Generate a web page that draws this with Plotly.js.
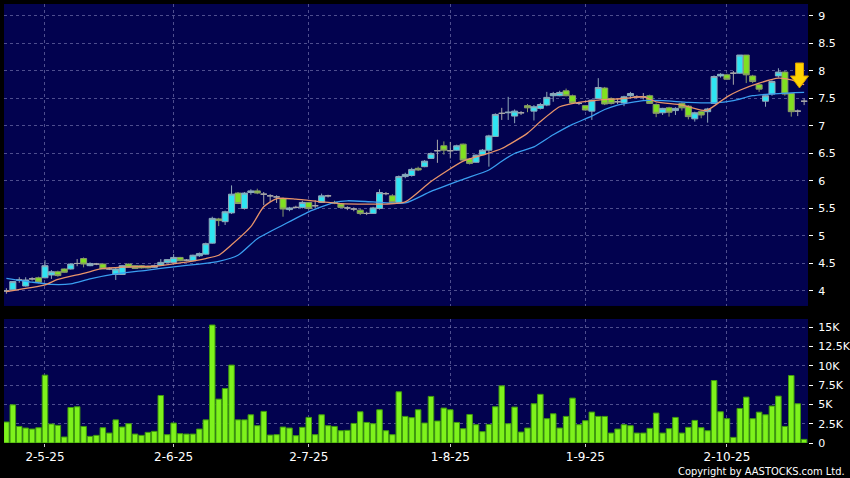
<!DOCTYPE html>
<html><head><meta charset="utf-8">
<script src="https://cdn.plot.ly/plotly-3.0.1.min.js"></script>
<style>html,body{margin:0;padding:0;background:#000;} #chart{width:850px;height:478px;}</style>
</head><body><div id="chart"></div>
<script>
// ---- data (index = trading day, 0 = 23 Apr 2025) ----
const openP = [4.00,4.02,4.20,4.09,4.22,4.24,4.24,4.29,4.35,4.40,
 4.40,4.50,4.59,4.46,4.49,4.49,4.40,4.30,4.30,4.49,
 4.46,4.46,4.45,4.43,4.47,4.52,4.52,4.61,4.56,4.55,
 4.64,4.67,4.87,5.31,5.26,5.42,5.78,5.50,5.79,5.82,
 5.76,5.73,5.71,5.68,5.48,5.52,5.52,5.61,5.55,5.61,
 5.73,5.61,5.58,5.51,5.49,5.47,5.41,5.41,5.50,5.77,
 5.73,5.61,6.08,6.10,6.23,6.26,6.41,6.55,6.64,6.55,
 6.56,6.67,6.40,6.34,6.48,6.56,6.81,7.23,7.24,7.18,
 7.24,7.37,7.27,7.32,7.38,7.55,7.55,7.64,7.55,7.41,
 7.37,7.27,7.50,7.69,7.50,7.44,7.42,7.55,7.53,7.53,
 7.55,7.39,7.24,7.33,7.28,7.41,7.36,7.13,7.26,7.26,
 7.41,7.91,7.93,7.96,7.96,8.29,7.91,7.75,7.45,7.58,
 7.91,7.98,7.59,7.27,7.45];
const highP = [4.05,4.18,4.25,4.25,4.25,4.26,4.56,4.38,4.37,4.41,
 4.50,4.58,4.61,4.52,4.51,4.50,4.43,4.42,4.47,4.50,
 4.47,4.47,4.46,4.48,4.58,4.58,4.67,4.62,4.58,4.66,
 4.70,4.88,5.35,5.33,5.46,5.92,5.80,5.80,5.85,5.86,
 5.80,5.76,5.74,5.70,5.53,5.55,5.64,5.62,5.65,5.77,
 5.75,5.64,5.60,5.54,5.52,5.49,5.44,5.53,5.85,5.80,
 5.76,6.10,6.15,6.24,6.26,6.38,6.52,6.75,6.72,6.71,
 6.66,6.68,6.42,6.48,6.58,6.84,7.23,7.33,7.53,7.30,
 7.27,7.40,7.38,7.42,7.62,7.62,7.64,7.68,7.57,7.44,
 7.38,7.48,7.87,7.71,7.52,7.50,7.55,7.62,7.56,7.60,
 7.57,7.41,7.33,7.35,7.34,7.43,7.38,7.26,7.28,7.33,
 7.92,7.96,7.95,8.00,8.29,8.29,7.93,7.77,7.56,7.83,
 8.05,8.00,7.60,7.30,7.50];
const lowP = [3.95,4.00,4.15,4.08,4.19,4.14,4.23,4.22,4.26,4.33,
 4.39,4.45,4.43,4.45,4.47,4.40,4.38,4.20,4.29,4.42,
 4.40,4.41,4.41,4.42,4.46,4.51,4.51,4.54,4.54,4.54,
 4.62,4.66,4.86,5.18,5.20,5.40,5.58,5.48,5.75,5.76,
 5.56,5.62,5.60,5.35,5.45,5.50,5.50,5.48,5.50,5.60,
 5.70,5.58,5.51,5.47,5.45,5.38,5.38,5.40,5.48,5.74,
 5.60,5.60,6.05,6.08,6.18,6.25,6.40,6.33,6.48,6.41,
 6.55,6.37,6.30,6.33,6.47,6.26,6.80,7.11,7.11,7.05,
 7.20,7.25,7.10,7.30,7.36,7.44,7.54,7.54,7.40,7.38,
 7.28,7.11,7.49,7.38,7.39,7.40,7.36,7.50,7.50,7.48,
 7.40,7.16,7.20,7.17,7.20,7.28,7.12,7.08,7.14,7.06,
 7.40,7.88,7.84,7.75,7.95,7.78,7.78,7.62,7.35,7.55,
 7.88,7.55,7.17,7.18,7.38];
const closeP = [4.00,4.17,4.20,4.20,4.22,4.16,4.46,4.35,4.28,4.34,
 4.49,4.50,4.49,4.50,4.49,4.40,4.40,4.40,4.46,4.43,
 4.41,4.42,4.42,4.46,4.52,4.57,4.61,4.55,4.56,4.65,
 4.68,4.86,5.32,5.28,5.44,5.76,5.59,5.78,5.82,5.78,
 5.76,5.73,5.71,5.49,5.51,5.52,5.61,5.50,5.55,5.73,
 5.73,5.60,5.52,5.51,5.49,5.41,5.41,5.51,5.79,5.77,
 5.61,6.08,6.12,6.21,6.20,6.36,6.50,6.55,6.56,6.55,
 6.64,6.38,6.32,6.47,6.56,6.82,7.21,7.23,7.25,7.27,
 7.24,7.33,7.35,7.39,7.52,7.59,7.61,7.55,7.42,7.41,
 7.29,7.47,7.70,7.40,7.41,7.44,7.53,7.59,7.53,7.53,
 7.41,7.23,7.32,7.25,7.32,7.33,7.17,7.24,7.20,7.31,
 7.90,7.94,7.85,7.96,8.29,7.93,7.81,7.67,7.55,7.81,
 7.98,7.58,7.26,7.27,7.45];
const volumeK = [2.72,4.95,2.15,1.94,1.81,1.98,8.80,2.46,2.29,0.78,
 4.60,4.70,2.15,0.86,0.99,1.98,1.29,3.00,2.07,2.50,
 1.16,0.99,1.38,1.51,6.16,1.08,2.59,1.21,1.16,1.16,
 1.81,3.00,15.3,5.69,7.07,10.1,3.00,3.00,3.66,2.24,
 4.10,1.03,1.08,2.07,1.94,0.95,2.03,3.32,1.08,3.66,
 2.24,2.15,1.59,1.64,2.54,4.05,2.67,2.50,4.31,1.59,
 1.08,6.64,3.45,3.28,4.31,2.59,6.04,2.85,4.53,4.31,
 2.67,1.85,3.70,2.37,1.47,2.41,4.70,7.41,2.50,4.66,
 1.42,1.94,5.09,6.31,3.15,3.79,1.94,3.45,5.82,2.37,
 2.89,4.01,3.45,3.45,1.29,1.81,2.37,2.24,1.29,1.29,
 1.90,3.88,1.29,1.85,3.32,1.29,2.03,2.93,1.98,1.59,
 8.10,4.05,3.15,0.73,4.48,5.95,3.15,4.00,3.66,4.79,
 6.08,2.15,8.75,5.09,0.47];
// moving average lines
const maShortIdx = [0,6,8,12,15,19,23,27,31,33,35,38,40,42,45,49,52,56,59,62,66,71,74,77,81,83,86,89,92,96,99,101,105,108,109,112,114,117,120,122,124];
const maShortVal = [3.99,4.11,4.21,4.32,4.41,4.44,4.45,4.51,4.59,4.65,4.84,5.17,5.53,5.68,5.67,5.62,5.59,5.58,5.58,5.62,5.99,6.36,6.47,6.59,6.87,7.08,7.35,7.43,7.47,7.50,7.53,7.44,7.38,7.29,7.29,7.53,7.65,7.78,7.87,7.84,7.75];
const maLongIdx = [0,4,7,10,13,17,22,26,30,33,36,39,43,47,51,53,57,62,66,71,75,77,79,82,85,88,91,93,95,99,102,106,110,113,116,120,124];
const maLongVal = [4.23,4.16,4.12,4.13,4.22,4.31,4.38,4.44,4.49,4.54,4.65,4.95,5.20,5.44,5.61,5.64,5.62,5.60,5.81,6.03,6.20,6.36,6.50,6.62,6.84,7.03,7.18,7.30,7.38,7.46,7.46,7.43,7.42,7.46,7.55,7.59,7.61];
const tickIdx = [6,26,47,69,90,112];
const tickLabels = ['2-5-25','2-6-25','2-7-25','1-8-25','1-9-25','2-10-25'];
const priceTicks = [4,4.5,5,5.5,6,6.5,7,7.5,8,8.5,9];
const volTicks = [0,2500,5000,7500,10000,12500,15000];
const volTickLabels = ['0','2.5K','5K','7.5K','10K','12.5K','15K'];

// ---- build ----
const idx = openP.map((_, i) => i);
function subset(test) {
  const s = {x: [], open: [], high: [], low: [], close: []};
  idx.forEach(i => { if (test(openP[i], closeP[i])) {
    s.x.push(i); s.open.push(openP[i]); s.high.push(highP[i]); s.low.push(lowP[i]); s.close.push(closeP[i]); } });
  return s;
}
function candle(s, line, fill) {
  return Object.assign({type: 'candlestick', xaxis: 'x', yaxis: 'y', hoverinfo: 'skip',
    increasing: {line: {color: line, width: 1}, fillcolor: fill},
    decreasing: {line: {color: line, width: 1}, fillcolor: fill},
    whiskerwidth: 0, showlegend: false}, s);
}
const up = subset((o, c) => c > o), dn = subset((o, c) => c < o), dj = subset((o, c) => c === o);

const grid = 'rgba(130,130,185,0.6)';
const font = {family: 'DejaVu Sans, Verdana, sans-serif', color: '#ffffff', size: 11};
const traces = [
  {type: 'bar', x: idx, y: volumeK.map(v => v * 1000), xaxis: 'x2', yaxis: 'y2',
   marker: {color: '#7ef21c', line: {color: '#3f9a0e', width: 1}}, hoverinfo: 'skip', showlegend: false},
  {type: 'scatter', mode: 'lines', x: maLongIdx, y: maLongVal, line: {color: '#3a9ef0', width: 1.3, shape: 'spline', smoothing: 0.6}, hoverinfo: 'skip', showlegend: false},
  {type: 'scatter', mode: 'lines', x: maShortIdx, y: maShortVal, line: {color: '#e8946a', width: 1.3, shape: 'spline', smoothing: 0.6}, hoverinfo: 'skip', showlegend: false},
  candle(dj, '#a8a8a8', '#a8a8a8'),
  candle(dn, '#8a9a6a', '#80e020'),
  candle(up, '#8fa8b8', '#2ee4f2')
];

const L = 4, R = 42, T = 4, B = 35, W = 850, H = 478;
const pw = W - L - R, ph = H - T - B;
const px = v => (v - L) / pw, py = v => (H - B - v) / ph;
const arrow = [[795.5,63],[803.5,63],[803.5,76],[808.5,76],[799.5,88],[790.5,76],[795.5,76]];
const arrowPath = 'M' + arrow.map(p => px(p[0]).toFixed(4) + ',' + py(p[1]).toFixed(4)).join(' L') + ' Z';

const layout = {
  width: W, height: H, margin: {l: L, r: R, t: T, b: B},
  paper_bgcolor: '#000000', plot_bgcolor: '#02024f',
  font: font, showlegend: false, bargap: 0.14, boxgap: 0.06, boxgroupgap: 0, boxmode: 'overlay',
  xaxis: {domain: [0, 1], anchor: 'y', range: [-0.37, 124.6], tickvals: tickIdx, showticklabels: false, ticks: '',
    showgrid: true, gridcolor: grid, griddash: '3px,3px', zeroline: false, showline: false, rangeslider: {visible: false}, fixedrange: true},
  yaxis: {domain: [0.3121, 1], range: [3.727, 9.218], side: 'right', tickvals: priceTicks, ticks: 'outside', ticklen: 4, tickcolor: '#ffffff',
    tickfont: font, gridcolor: grid, griddash: '3px,3px', zeroline: false, showline: false, fixedrange: true, ticklabelstandoff: 3},
  xaxis2: {domain: [0, 1], anchor: 'y2', matches: 'x', range: [-0.37, 124.6], tickvals: tickIdx, ticktext: tickLabels, ticks: 'outside', ticklen: 3,
    tickcolor: '#cccccc', tickfont: {family: font.family, color: '#ffffff', size: 12}, showgrid: true, gridcolor: grid, griddash: '3px,3px',
    zeroline: false, showline: false, rangeslider: {visible: false}, fixedrange: true},
  yaxis2: {domain: [0, 0.2825], range: [0, 16080], side: 'right', tickvals: volTicks, ticktext: volTickLabels, ticks: 'outside', ticklen: 4,
    tickcolor: '#ffffff', tickfont: font, gridcolor: grid, griddash: '3px,3px', zeroline: false, showline: false, fixedrange: true, ticklabelstandoff: 3},
  shapes: [{type: 'path', xref: 'paper', yref: 'paper', path: arrowPath, fillcolor: '#ffd200', line: {color: '#d89a00', width: 1}}],
  annotations: [{xref: 'paper', yref: 'paper', x: px(847), y: py(471), xanchor: 'right', yanchor: 'middle', showarrow: false,
    text: 'Copyright by AASTOCKS.com Ltd.', font: {family: 'DejaVu Sans Condensed, DejaVu Sans, sans-serif', color: '#ffffff', size: 11}}]
};
Plotly.newPlot('chart', traces, layout, {staticPlot: true, displayModeBar: false});
</script></body></html>
